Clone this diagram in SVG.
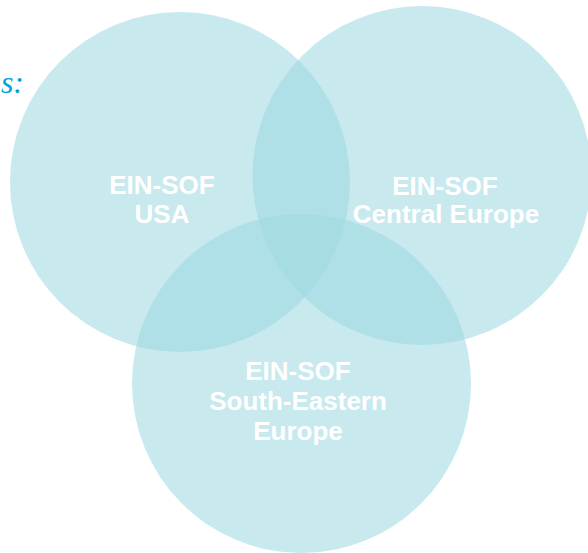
<svg xmlns="http://www.w3.org/2000/svg" width="588" height="553" viewBox="0 0 588 553">
<style>
.c{fill:#9fd8e1;fill-opacity:0.57}
.t{font-family:"Liberation Sans",Arial,sans-serif;font-weight:bold;font-size:26px;fill:#ffffff;text-anchor:middle}
.h{font-family:"Liberation Serif","Times New Roman",serif;font-style:italic;font-size:32px;fill:#00a4e4;text-anchor:end}
</style>
<rect width="588" height="553" fill="#ffffff"/>
<text class="h" x="24" y="93">as:</text>
<g id="usa">
<circle class="c" cx="180" cy="182" r="170"/>
<text class="t" x="162" y="194">EIN-SOF</text>
<text class="t" x="162" y="223">USA</text>
</g>
<g id="central-europe">
<circle class="c" cx="422" cy="175.5" r="169.5"/>
<text class="t" x="445" y="195">EIN-SOF</text>
<text class="t" x="446" y="223">Central Europe</text>
</g>
<g id="south-eastern-europe">
<circle class="c" cx="301.5" cy="383.5" r="169.5"/>
<text class="t" x="298" y="380">EIN-SOF</text>
<text class="t" x="298" y="410">South-Eastern</text>
<text class="t" x="298" y="440">Europe</text>
</g>
<g id="connectors"/>
</svg>
